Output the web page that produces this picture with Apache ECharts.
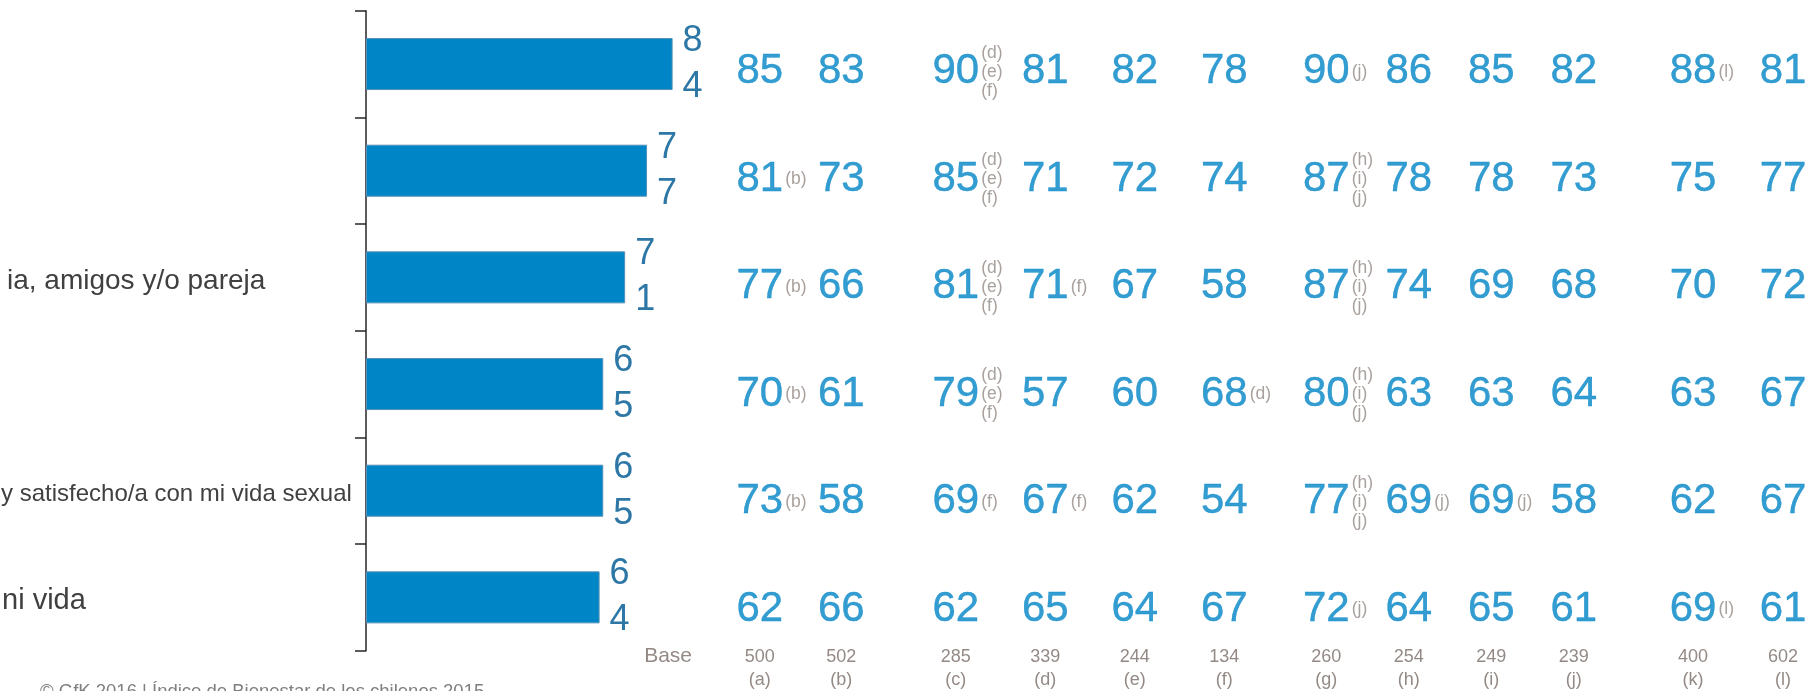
<!DOCTYPE html>
<html>
<head>
<meta charset="utf-8">
<script src="https://cdn.jsdelivr.net/npm/echarts@6/dist/echarts.min.js"></script>
<style>
  html, body { margin: 0; padding: 0; background: #ffffff; }
  #chart { width: 1810px; height: 691px; }
</style>
</head>
<body>
<div id="chart"></div>
<script>
// filas, de arriba hacia abajo (el texto viene recortado en la imagen original)
const rowLabels = ['', '', 'ia, amigos y/o pareja', '', 'y satisfecho/a con mi vida sexual', 'ni vida'];
const totalValues = [84, 77, 71, 65, 65, 64];

// columnas de la tabla y sus bases
const columns = ['a', 'b', 'c', 'd', 'e', 'f', 'g', 'h', 'i', 'j', 'k', 'l'];
const bases = [500, 502, 285, 339, 244, 134, 260, 254, 249, 239, 400, 602];
const columnGroups = [[0, 1], [2, 3, 4, 5], [6, 7, 8, 9], [10, 11]];

// valores por fila (filas) x columna (a..l)
const tableValues = [
  [85, 83, 90, 81, 82, 78, 90, 86, 85, 82, 88, 81],
  [81, 73, 85, 71, 72, 74, 87, 78, 78, 73, 75, 77],
  [77, 66, 81, 71, 67, 58, 87, 74, 69, 68, 70, 72],
  [70, 61, 79, 57, 60, 68, 80, 63, 63, 64, 63, 67],
  [73, 58, 69, 67, 62, 54, 77, 69, 69, 58, 62, 67],
  [62, 66, 62, 65, 64, 67, 72, 64, 65, 61, 69, 61]
];

// diferencias significativas (letras de las columnas)
const sigLetters = [
  ['', '', 'def', '', '', '', 'j', '', '', '', 'l', ''],
  ['b', '', 'def', '', '', '', 'hij', '', '', '', '', ''],
  ['b', '', 'def', 'f', '', '', 'hij', '', '', '', '', ''],
  ['b', '', 'def', '', '', 'd', 'hij', '', '', '', '', ''],
  ['b', '', 'f', 'f', '', '', 'hij', 'j', 'j', '', '', ''],
  ['', '', '', '', '', '', 'j', '', '', '', 'l', '']
];

const font = '"Liberation Sans", Arial, Helvetica, sans-serif';
const barColor = '#0085c6';
const numColor = '#0084c6';
const greyColor = '#948a85';

const chart = echarts.init(document.getElementById('chart'));

// posiciones de cada bloque de columnas
const groupGrids = [
  { left: 719, width: 163 },
  { left: 911, width: 358 },
  { left: 1285, width: 330 },
  { left: 1648, width: 180 }
];

const labelStyle = { fontSize: 24, color: '#404040', fontFamily: font };

const grids = [{ left: 366, top: 10.7, width: 365, height: 640, outerBoundsMode: 'none' }];
const xAxes = [{ type: 'value', gridIndex: 0, min: 0, max: 100, show: false }];
const yAxes = [{
  type: 'category',
  gridIndex: 0,
  inverse: true,
  data: rowLabels,
  axisLine: { show: true, lineStyle: { color: '#262626', width: 1.5 } },
  axisTick: { show: true, length: 11, lineStyle: { color: '#262626', width: 1.5 } },
  splitLine: { show: false },
  axisLabel: {
    interval: 0,
    align: 'left',
    margin: 366,
    ...labelStyle,
    formatter: (v, i) => (v ? '{r' + i + '|' + v + '}' : ''),
    rich: {
      r2: { ...labelStyle, fontSize: 28, padding: [7, 0, 0, 7] },
      r4: { ...labelStyle, fontSize: 24, padding: [7, 0, 0, 1] },
      r5: { ...labelStyle, fontSize: 29, padding: [7, 0, 0, 2] }
    }
  }
}];

const series = [{
  type: 'bar',
  xAxisIndex: 0,
  yAxisIndex: 0,
  data: totalValues,
  barWidth: 52,
  itemStyle: { color: barColor, borderColor: '#5590b8', borderWidth: 1 },
  label: {
    show: true,
    position: 'right',
    distance: 10,
    fontSize: 36,
    lineHeight: 46,
    color: '#2d77a6',
    fontFamily: font,
    formatter: p => String(p.value).split('').join('\n')
  }
}];

columnGroups.forEach((cols, g) => {
  const gi = g + 1;
  grids.push({ ...groupGrids[g], top: 18, height: 645, outerBoundsMode: 'none' });
  xAxes.push({
    type: 'category',
    gridIndex: gi,
    data: cols.map(c => columns[c]),
    offset: -6.5,
    axisLine: { show: false },
    axisTick: { show: false },
    splitLine: { show: false },
    axisLabel: {
      interval: 0,
      margin: -11.5,
      fontSize: 18,
      lineHeight: 23.5,
      color: greyColor,
      fontFamily: font,
      formatter: (v, i) => bases[cols[i]] + '\n(' + v + ')'
    },
    name: g === 0 ? 'Base' : '',
    nameLocation: 'start',
    nameGap: 27,
    nameTextStyle: { fontSize: 21, color: greyColor, fontFamily: font, verticalAlign: 'middle' }
  });
  yAxes.push({ type: 'category', gridIndex: gi, inverse: true, data: rowLabels.map((_, r) => 'r' + r), show: false });

  const nums = [];
  const sigs = [];
  tableValues.forEach((row, r) => {
    cols.forEach((c, k) => {
      nums.push({ value: [k, r, row[c]] });
      if (sigLetters[r][c]) sigs.push({ name: sigLetters[r][c], value: [k, r] });
    });
  });

  series.push({
    type: 'scatter',
    xAxisIndex: gi,
    yAxisIndex: gi,
    data: nums,
    symbolSize: 1,
    itemStyle: { color: 'rgba(0,0,0,0)' },
    label: {
      show: true,
      position: 'inside',
      fontSize: 42,
      color: numColor,
      textBorderColor: numColor,
      textBorderWidth: 0.4,
      fontFamily: font,
      formatter: p => String(p.value[2])
    }
  });
  series.push({
    type: 'scatter',
    xAxisIndex: gi,
    yAxisIndex: gi,
    data: sigs,
    symbolSize: 1,
    itemStyle: { color: 'rgba(0,0,0,0)' },
    label: {
      show: true,
      position: 'right',
      distance: 25,
      fontSize: 17.5,
      lineHeight: 19,
      color: greyColor,
      fontFamily: font,
      formatter: p => p.name.split('').map(ch => '(' + ch + ')').join('\n')
    }
  });
});

chart.setOption({
  animation: false,
  backgroundColor: '#ffffff',
  textStyle: { fontFamily: font },
  title: {
    text: '© GfK 2016 | Índice de Bienestar de los chilenos 2015',
    left: 40,
    top: 682,
    padding: 0,
    textStyle: { fontSize: 18.5, fontWeight: 'normal', color: '#7f7f7f', fontFamily: font }
  },
  grid: grids,
  xAxis: xAxes,
  yAxis: yAxes,
  series: series
});
</script>
</body>
</html>
